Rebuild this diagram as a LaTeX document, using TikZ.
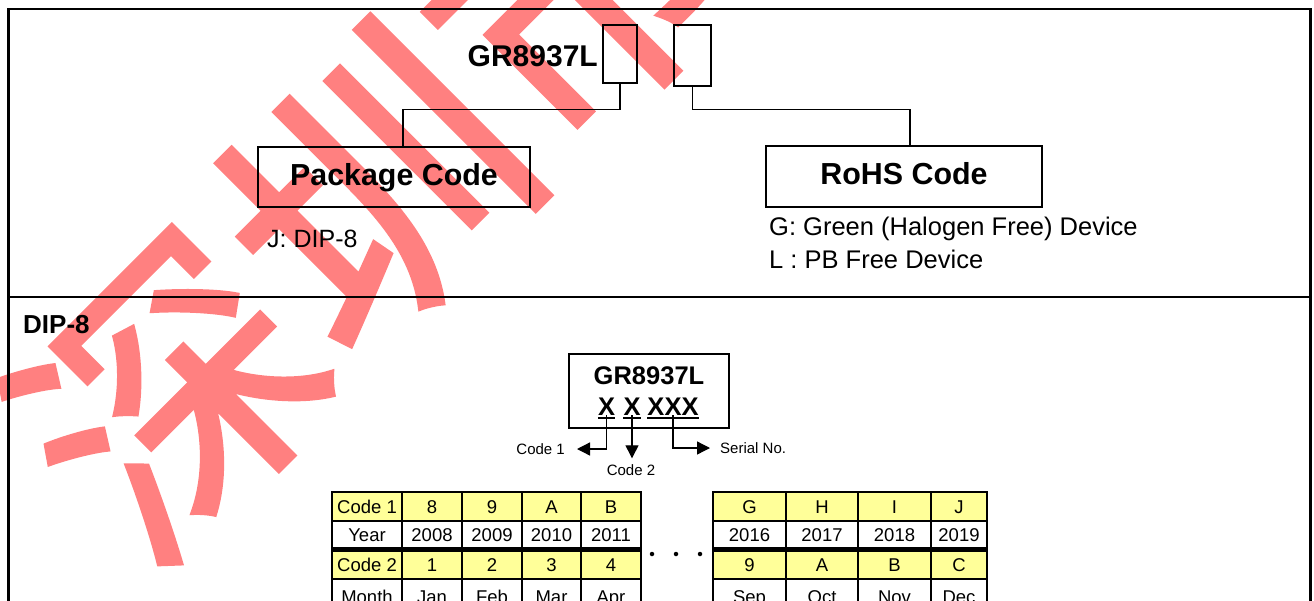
\documentclass[tikz,border=0pt]{standalone}
\usepackage{fontspec}
\setmainfont{Liberation Sans}
\newfontfamily\cjkwm[FakeBold=1.5]{Noto Sans CJK SC}
\usetikzlibrary{arrows.meta,calc}
\definecolor{wmred}{RGB}{255,128,128}
\definecolor{cellyellow}{RGB}{255,255,153}
\newcommand\fsz[1]{\fontsize{#1}{#1}\selectfont}
\begin{document}
\begin{tikzpicture}[x=1pt,y=-1pt,
  frameline/.style={line width=2.5pt},
  smallbox/.style={draw,line width=1.5pt,inner sep=0pt},
  bigbox/.style={draw,line width=1.5pt,inner sep=0pt,font=\bfseries\fsz{30.4},text height=22pt,text depth=6pt},
  conn/.style={line width=1.5pt},
  plain/.style={inner sep=0pt,font=\fsz{25.5}},
  marktext/.style={inner sep=0pt,anchor=base,font=\bfseries\fsz{25.5}},
  uline/.style={line width=2.5pt},
  lbl/.style={inner sep=0pt,font=\fsz{15}},
  arr/.style={line width=1.3pt,-{Triangle[length=13pt,width=13pt]}},
  cell/.style={inner sep=0pt,font=\fsz{18.5},text height=13pt,text depth=0pt},
  gridline/.style={line width=2.3pt},
  dotmark/.style={fill=black,draw=none,circle,inner sep=0pt,minimum size=4.5pt}
]
\useasboundingbox (0,0) rectangle (1314,600);
\clip (0,0) rectangle (1314,600);
\fill[white] (0,0) rectangle (1314,600);
% watermark
\node[anchor=base,rotate=45,inner sep=0pt,text=wmred,font=\cjkwm\fsz{290}] (wm) at (452,267) {深圳市};
% frame
\draw[frameline] (8.5,9) rectangle (1310.5,650);
\draw[frameline] (8.5,297) -- (1310.5,297);
% top part
\node[smallbox,minimum width=34pt,minimum height=58pt] (box1) at (620,54) {};
\node[smallbox,minimum width=37pt,minimum height=61pt] (box2) at (692.5,55.5) {};
\node[anchor=base east,inner sep=0pt,font=\bfseries\fsz{30}] (pn) at (598,66.5) {GR8937L};
\node[bigbox,minimum width=272pt,minimum height=60pt] (pkg) at (394,177) {Package Code};
\node[bigbox,minimum width=276pt,minimum height=61pt] (rohs) at (904,176.5) {RoHS Code};
\draw[conn] (box1.south) |- ($(pkg.north)+(9,-37)$) -- ($(pkg.north)+(9,0)$);
\draw[conn] (box2.south) |- ($(rohs.north)+(6,-36)$) -- ($(rohs.north)+(6,0)$);
\node[plain,anchor=base west,font=\fsz{25}] (jdip) at (267,247) {J: DIP-8};
\node[plain,anchor=base west] (gdev) at (769,235) {G: Green (Halogen Free) Device};
\node[plain,anchor=base west] (ldev) at (769,268) {L : PB Free Device};
% bottom part
\node[anchor=base west,inner sep=0pt,font=\bfseries\fsz{26}] (dip) at (23,333) {DIP-8};
\node[smallbox,minimum width=160pt,minimum height=74pt] (mark) at (649,391) {};
\node[marktext] (mpn) at (649,384) {GR8937L};
\node[marktext] (x1) at (606.5,415) {X};
\node[marktext] (x2) at (632,415) {X};
\node[marktext] (x3) at (673,415) {XXX};
\foreach \n in {x1,x2,x3}
  \draw[uline] ($(\n.base west)+(0,3)$) -- ($(\n.base east)+(0,3)$);
\node[lbl,anchor=east] (c1) at (565,449) {Code 1};
\node[lbl] (c2) at (631,470) {Code 2};
\node[lbl,anchor=west] (sn) at (720,448) {Serial No.};
\draw[arr] (x1.south) |- ($(c1.east)+(12,0)$);
\draw[arr] (x2.south) -- ($(x2.south |- c2.north)+(0,-6)$);
\draw[arr] (x3.south) |- ($(sn.west)+(-10,0)$);
% tables: fills
\foreach \xa/\xb in {332/641,713/987}{
  \fill[cellyellow] (\xa,492) rectangle (\xb,521);
  \fill[cellyellow] (\xa,550.5) rectangle (\xb,579);
}
% left table grid
\foreach \ya/\yb in {492/548.5,550.5/640}{
  \draw[gridline] (332,\ya) rectangle (641,\yb);
  \foreach \x in {402,462,522,581} \draw[gridline] (\x,\ya) -- (\x,\yb);
}
\draw[gridline] (332,521) -- (641,521);
\draw[gridline] (332,579) -- (641,579);
% right table grid
\foreach \ya/\yb in {492/548.5,550.5/640}{
  \draw[gridline] (713,\ya) rectangle (987,\yb);
  \foreach \x in {786,858,931} \draw[gridline] (\x,\ya) -- (\x,\yb);
}
\draw[gridline] (713,521) -- (987,521);
\draw[gridline] (713,579) -- (987,579);
% left table text
\foreach \x/\t [count=\i] in {367/Code 1,432/8,492/9,551.5/A,611/B} \node[cell] (la\i) at (\x,506.5) {\t};
\foreach \x/\t [count=\i] in {367/Year,432/2008,492/2009,551.5/2010,611/2011} \node[cell] (lb\i) at (\x,534.5) {\t};
\foreach \x/\t [count=\i] in {367/Code 2,432/1,492/2,551.5/3,611/4} \node[cell] (lc\i) at (\x,565) {\t};
\foreach \x/\t [count=\i] in {367/Month,432/Jan,492/Feb,551.5/Mar,611/Apr} \node[cell] (ld\i) at (\x,597) {\t};
% right table text
\foreach \x/\t [count=\i] in {749.5/G,822/H,894.5/I,959/J} \node[cell] (ra\i) at (\x,506.5) {\t};
\foreach \x/\t [count=\i] in {749.5/2016,822/2017,894.5/2018,959/2019} \node[cell] (rb\i) at (\x,534.5) {\t};
\foreach \x/\t [count=\i] in {749.5/9,822/A,894.5/B,959/C} \node[cell] (rc\i) at (\x,565) {\t};
\foreach \x/\t [count=\i] in {749.5/Sep,822/Oct,894.5/Nov,959/Dec} \node[cell] (rd\i) at (\x,597) {\t};
% dots
\foreach \x [count=\i] in {652,676,700} \node[dotmark] (dot\i) at (\x,554) {};
\end{tikzpicture}
\end{document}
